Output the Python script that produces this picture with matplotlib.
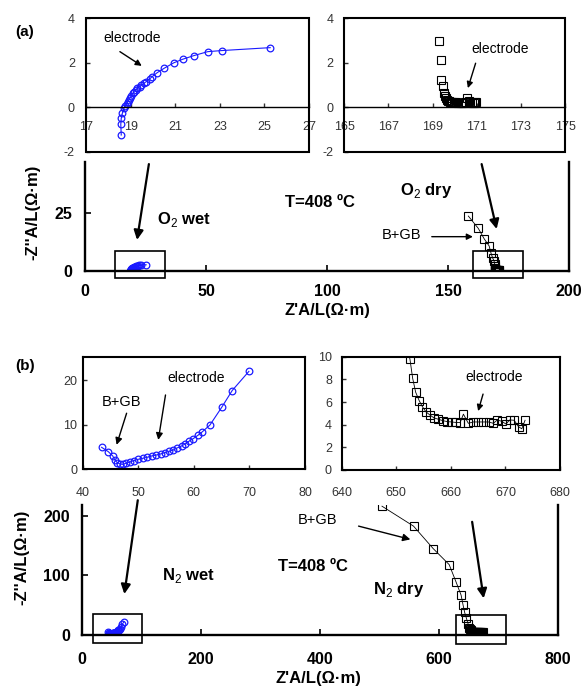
import numpy as np
import matplotlib
matplotlib.use('Agg')
import matplotlib.pyplot as plt
from matplotlib.patches import Rectangle

plt.rcParams['font.family'] = ['Liberation Sans', 'DejaVu Sans']
plt.rcParams['mathtext.fontset'] = 'custom'
plt.rcParams['mathtext.rm'] = 'Liberation Sans'
plt.rcParams['mathtext.bf'] = 'Liberation Sans:bold'
plt.rcParams['axes.unicode_minus'] = False

# ---- data ----
# (a) O2 wet
o2_wet_x = [18.58, 18.56, 18.58, 18.63, 18.7, 18.76, 18.82, 18.88, 18.93, 18.98, 19.03,
            19.1, 19.15, 19.22, 19.3, 19.4, 19.48, 19.6, 19.7, 19.85, 19.97, 20.2,
            20.5, 20.94, 21.34, 21.83, 22.46, 23.1, 25.26]
o2_wet_y = [-1.25, -0.77, -0.5, -0.27, -0.05, 0.05, 0.15, 0.25, 0.33, 0.42, 0.52,
            0.62, 0.7, 0.78, 0.85, 0.92, 1.0, 1.08, 1.15, 1.27, 1.38, 1.56,
            1.75, 2.0, 2.16, 2.32, 2.5, 2.55, 2.68]
# (a) O2 dry
o2_dry_x = [158.4, 162.5, 165.0, 167.0, 167.8, 168.5, 169.0, 169.3, 169.37, 169.38, 169.45,
            169.5, 169.55, 169.6, 169.65, 169.7, 169.75, 169.8, 169.85, 169.9, 169.97,
            170.05, 170.15, 170.27, 170.37, 170.45, 170.57, 170.65, 170.7, 170.78,
            170.87, 170.92, 170.97]
o2_dry_y = [23.7, 18.4, 13.8, 10.8, 7.6, 5.5, 4.4, 3.0, 2.13, 1.23, 0.96,
            0.63, 0.5, 0.4, 0.33, 0.3, 0.26, 0.25, 0.24, 0.23, 0.22,
            0.22, 0.21, 0.2, 0.21, 0.22, 0.4, 0.3, 0.22, 0.21,
            0.2, 0.25, 0.22]
# (b) N2 wet
n2_wet_x = [43.4, 44.6, 45.4, 45.8, 46.2, 46.7, 47.2, 47.8, 48.5, 49.2, 50.0, 50.8,
            51.6, 52.4, 53.2, 54.0, 54.8, 55.6, 56.3, 57.0, 57.8, 58.4, 59.2, 59.9,
            60.8, 61.5, 62.9, 65.0, 66.9, 69.9]
n2_wet_y = [4.94, 3.97, 3.0, 2.1, 1.5, 1.2, 1.12, 1.35, 1.65, 1.95, 2.25, 2.47,
            2.7, 3.0, 3.2, 3.45, 3.75, 4.05, 4.34, 4.8, 5.24, 5.69, 6.37, 6.9,
            7.7, 8.4, 9.96, 13.9, 17.7, 22.0]
# (b) N2 dry
n2_dry_x = [504, 557, 590, 617, 628.6, 637, 640.4, 643, 646, 649, 651,
            652.5, 653.0, 653.55, 654.2, 654.8, 655.45, 656.2, 656.9, 657.7, 658.5,
            659.35, 660.15, 660.9, 661.7, 662.3, 663.2, 664.1, 665.0, 665.9, 666.9,
            667.8, 668.5, 669.3, 670.1, 670.8, 671.6, 672.4, 673.0, 673.6]
n2_dry_y = [216, 182.6, 145, 118, 88.8, 67, 50, 38, 28, 18, 12.5,
            9.8, 8.1, 6.87, 6.12, 5.58, 5.13, 4.84, 4.6, 4.48, 4.36,
            4.27, 4.24, 4.2, 4.18, 4.93, 4.12, 4.24, 4.24, 4.24, 4.24,
            4.12, 4.42, 4.3, 4.06, 4.42, 4.39, 3.82, 3.64, 4.39]

W, H = 582, 692
fig = plt.figure(figsize=(W / 100, H / 100), dpi=100)


def box(x0, y0, x1, y1):
    # pixel box (top-left origin) -> figure fraction
    return [x0 / W, 1 - y1 / H, (x1 - x0) / W, (y1 - y0) / H]


def wet(ax, x, y, ms=4.8):
    ax.plot(x, y, '-o', color='#1a1aff', lw=0.8, ms=ms, mfc='none', mew=0.9)


def dry(ax, x, y, ms=5.3, lw=0.6):
    ax.plot(x, y, '-s', color='black', lw=lw, ms=ms, mfc='none', mew=0.8)


def style_main(ax):
    for s in ['left', 'bottom', 'right']:
        ax.spines[s].set_linewidth(1.7)
    ax.spines['top'].set_visible(False)
    ax.tick_params(direction='in', length=4, width=1.2, labelsize=11.5)
    ax.tick_params(axis='x', pad=9)
    ax.tick_params(axis='y', pad=9)
    for lab in ax.get_xticklabels() + ax.get_yticklabels():
        lab.set_fontweight('bold')


def style_inset(ax, zero_axis=False, xpad=10, ypad=7):
    ax.tick_params(direction='in', length=3, width=1, labelsize=9, colors='#333333')
    ax.tick_params(axis='x', pad=xpad)
    ax.tick_params(axis='y', pad=ypad)
    if zero_axis:
        ax.spines['bottom'].set_position(('data', 0))
        ax.spines['bottom'].set_linewidth(1.0)
        for s in ['left', 'right', 'top']:
            ax.spines[s].set_visible(False)
        ax.add_patch(Rectangle((0, 0), 1, 1, transform=ax.transAxes, fill=False,
                               lw=1.5, ec='black', clip_on=False, zorder=5))
    else:
        for s in ax.spines.values():
            s.set_linewidth(1.5)


def arrow(ax, start, end, lw=1.5, head=10):
    ax.annotate('', xy=end, xytext=start, annotation_clip=False,
                arrowprops=dict(arrowstyle='-|>', color='black', lw=lw,
                                mutation_scale=head, shrinkA=0, shrinkB=0))


# ================= panel (a) =================
ax_a = fig.add_axes(box(85, 162, 569, 271))
wet(ax_a, o2_wet_x, o2_wet_y)
dry(ax_a, o2_dry_x, o2_dry_y)
ax_a.set_xlim(0, 200)
ax_a.set_ylim(0, 47)
ax_a.set_xticks([0, 50, 100, 150, 200])
ax_a.set_yticks([0, 25])
style_main(ax_a)
ax_a.add_patch(Rectangle((12.5, -3), 20.5, 11.6, fill=False, lw=1.2, clip_on=False))
ax_a.add_patch(Rectangle((160.2, -3), 20.6, 11.6, fill=False, lw=1.2, clip_on=False))
arrow(ax_a, (26.4, 46.1), (21.5, 13.4), lw=1.6, head=14)
arrow(ax_a, (163.9, 46.1), (170.1, 18.1), lw=1.6, head=14)
arrow(ax_a, (143.3, 14.8), (160.3, 14.8), lw=1.0, head=9)
ax_a.text(122.6, 15.5, 'B+GB', fontsize=10.5, va='center', ha='left')
ax_a.text(29.8, 22, r'O$_2$ wet', fontsize=12, fontweight='bold', va='center')
ax_a.text(82.6, 29.7, 'T=408 ºC', fontsize=12, fontweight='bold', va='center')
ax_a.text(130.2, 34.9, r'O$_2$ dry', fontsize=12, fontweight='bold', va='center')

ia1 = fig.add_axes(box(86, 18.3, 309, 151.7))
wet(ia1, o2_wet_x, o2_wet_y)
ia1.set_xlim(17, 27)
ia1.set_ylim(-2, 4)
ia1.set_xticks(np.arange(17, 28, 2))
ia1.set_yticks([-2, 0, 2, 4])
style_inset(ia1, zero_axis=True, xpad=10, ypad=8)
ia1.text(17.76, 3.12, 'electrode', fontsize=10, va='center')
arrow(ia1, (18.52, 2.5), (19.5, 1.86), lw=1.0, head=9)

ia2 = fig.add_axes(box(344.3, 18.3, 565, 151.7))
dry(ia2, o2_dry_x, o2_dry_y, lw=0)
ia2.set_xlim(165, 175)
ia2.set_ylim(-2, 4)
ia2.set_xticks(np.arange(165, 176, 2))
ia2.set_yticks([-2, 0, 2, 4])
style_inset(ia2, zero_axis=True, xpad=10, ypad=8)
ia2.text(170.77, 2.63, 'electrode', fontsize=10, va='center')
arrow(ia2, (170.95, 1.98), (170.6, 0.86), lw=1.0, head=9)

# ================= panel (b) =================
ax_b = fig.add_axes(box(82.3, 505, 558, 635))
wet(ax_b, n2_wet_x, n2_wet_y)
dry(ax_b, n2_dry_x, n2_dry_y)
ax_b.set_xlim(0, 800)
ax_b.set_ylim(0, 218)
ax_b.set_xticks([0, 200, 400, 600, 800])
ax_b.set_yticks([0, 100, 200])
style_main(ax_b)
ax_b.tick_params(axis='x', pad=12)
ax_b.add_patch(Rectangle((17.5, -13), 83.5, 48, fill=False, lw=1.2, clip_on=False))
ax_b.add_patch(Rectangle((628, -15), 84, 48.5, fill=False, lw=1.2, clip_on=False))
arrow(ax_b, (93.3, 226), (70.7, 68.7), lw=1.6, head=14)
arrow(ax_b, (655.6, 189.8), (675, 61.5), lw=1.6, head=14)
arrow(ax_b, (464.6, 182.6), (551.7, 160.3), lw=1.0, head=11)
ax_b.text(363, 192.6, 'B+GB', fontsize=10.5, va='center', ha='left')
ax_b.text(133.7, 100.5, r'N$_2$ wet', fontsize=12, fontweight='bold', va='center')
ax_b.text(329.5, 114.4, 'T=408 ºC', fontsize=12, fontweight='bold', va='center')
ax_b.text(489.4, 77, r'N$_2$ dry', fontsize=12, fontweight='bold', va='center')

ib1 = fig.add_axes(box(82.7, 356.7, 305, 469.3))
wet(ib1, n2_wet_x, n2_wet_y)
ib1.set_xlim(40, 80)
ib1.set_ylim(0, 25.3)
ib1.set_xticks(np.arange(40, 81, 10))
ib1.set_yticks([0, 10, 20])
style_inset(ib1, xpad=13, ypad=4)
ib1.text(43.4, 15.2, 'B+GB', fontsize=10.5, va='center')
arrow(ib1, (47.9, 12.6), (46.1, 5.5), lw=1.0, head=10)
ib1.text(55.3, 20.5, 'electrode', fontsize=10, va='center')
arrow(ib1, (54.9, 16.7), (53.6, 6.6), lw=1.0, head=10)

ib2 = fig.add_axes(box(341.7, 356.7, 560, 470))
dry(ib2, n2_dry_x, n2_dry_y)
ib2.set_xlim(640, 680)
ib2.set_ylim(0, 10)
ib2.set_xticks(np.arange(640, 681, 10))
ib2.set_yticks(np.arange(0, 11, 2))
style_inset(ib2, xpad=12, ypad=7)
ib2.text(662.7, 8.2, 'electrode', fontsize=10, va='center')
arrow(ib2, (665.9, 6.7), (665.0, 5.2), lw=1.0, head=9)

# ---- labels ----
fig.text(15 / W, 1 - 31.7 / H, '(a)', fontsize=11, fontweight='bold', va='center')
fig.text(15 / W, 1 - 366 / H, '(b)', fontsize=11, fontweight='bold', va='center')
fig.text(33 / W, 1 - 212 / H, "-Z''A/L(Ω·m)", fontsize=12, fontweight='bold',
         rotation=90, ha='center', va='center')
fig.text(22 / W, 1 - 557 / H, "-Z''A/L(Ω·m)", fontsize=12, fontweight='bold',
         rotation=90, ha='center', va='center')
fig.text(327 / W, 1 - 311 / H, "Z'A/L(Ω·m)", fontsize=12, fontweight='bold',
         ha='center', va='center')
fig.text(318 / W, 1 - 679 / H, "Z'A/L(Ω·m)", fontsize=12, fontweight='bold',
         ha='center', va='center')

fig.savefig('out.png', dpi=100)
